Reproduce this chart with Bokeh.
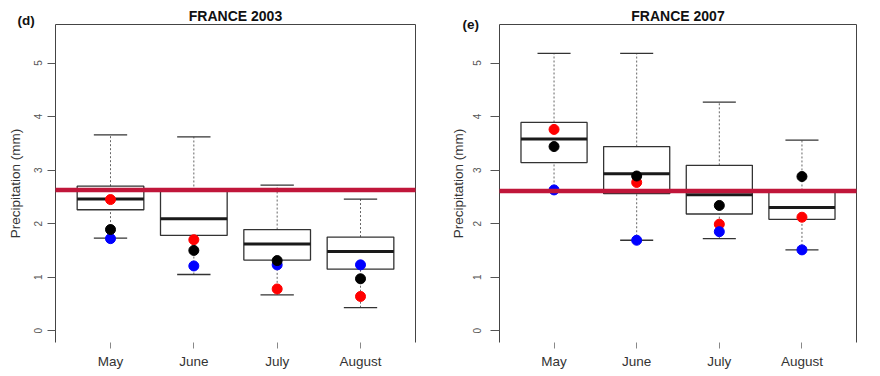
from bokeh.plotting import figure
from bokeh.models import (Range1d, FixedTicker, LinearAxis, BoxAnnotation, Label,
                          ColumnDataSource)
from bokeh.transform import dodge
from bokeh.layouts import row
from bokeh.embed import file_html
from bokeh.resources import INLINE

months = ["May", "June", "July", "August"]
y_ticks = [0, 1, 2, 3, 4, 5]

# FRANCE 2003 (panel d)
lo_2003 = [1.73, 1.05, 0.67, 0.43]
q1_2003 = [2.26, 1.78, 1.32, 1.15]
med_2003 = [2.46, 2.09, 1.62, 1.48]
q3_2003 = [2.70, 2.62, 1.89, 1.75]
hi_2003 = [3.66, 3.62, 2.72, 2.46]
red_2003 = [2.45, 1.70, 0.78, 0.64]
black_2003 = [1.89, 1.50, 1.31, 0.97]
blue_2003 = [1.72, 1.21, 1.23, 1.23]

# FRANCE 2007 (panel e)
lo_2007 = [2.62, 1.69, 1.72, 1.51]
q1_2007 = [3.14, 2.56, 2.18, 2.08]
med_2007 = [3.58, 2.93, 2.54, 2.30]
q3_2007 = [3.89, 3.44, 3.09, 2.62]
hi_2007 = [5.18, 5.18, 4.27, 3.56]
red_2007 = [3.76, 2.77, 1.99, 2.12]
black_2007 = [3.44, 2.89, 2.34, 2.88]
blue_2007 = [2.63, 1.69, 1.85, 1.51]

# red horizontal marker line level (mm)
marker_2003 = 2.63
marker_2007 = 2.61

FONT = "Liberation Sans"
FRAME = "#444444"
W, H = 440, 376


def make_panel(bl, br, bt, bb, tag, tag_pos, title, lo, q1, med, q3, hi, red, black,
               blue, marker, tick_out, tick_standoff, label_standoff):
    xs = [i + 1 for i in range(len(months))]
    src = ColumnDataSource(dict(x=xs, lo=lo, q1=q1, med=med, q3=q3, hi=hi,
                                red=red, black=black, blue=blue))
    xr = Range1d(0.34, 4.66)
    p = figure(width=W, height=H, output_backend="svg", toolbar_location=None,
               tools="", x_range=xr, y_range=Range1d(-0.22, 5.72),
               min_border_left=bl, min_border_right=br,
               min_border_top=bt, min_border_bottom=bb)
    p.outline_line_color = None
    p.grid.visible = False
    p.title.text = title
    p.title.align = "center"
    p.title.text_font = FONT
    p.title.text_font_size = "14px"
    p.title.text_font_style = "bold"
    p.title.text_color = "#111111"
    p.title.standoff = 1

    ya = p.yaxis[0]
    ya.ticker = FixedTicker(ticks=y_ticks)
    ya.axis_line_color = FRAME
    ya.major_tick_in = 0
    ya.major_tick_out = tick_out
    ya.major_tick_line_color = "#555555"
    ya.minor_tick_line_color = None
    ya.major_label_orientation = "vertical"
    ya.major_label_text_font = FONT
    ya.major_label_text_font_size = "10px"
    ya.major_label_text_color = "#555555"
    ya.major_label_standoff = tick_standoff
    ya.axis_label = "Precipitation (mm)"
    ya.axis_label_text_font = FONT
    ya.axis_label_text_font_size = "13.5px"
    ya.axis_label_text_font_style = "normal"
    ya.axis_label_text_color = "#333333"
    ya.axis_label_standoff = label_standoff

    xa = p.xaxis[0]
    xa.ticker = FixedTicker(ticks=xs)
    xa.major_label_overrides = {x: m for x, m in zip(xs, months)}
    xa.axis_line_color = None
    xa.major_tick_in = 0
    xa.major_tick_out = 6
    xa.major_tick_line_color = "#888888"
    xa.minor_tick_line_color = None
    xa.major_label_text_font = FONT
    xa.major_label_text_font_size = "13.5px"
    xa.major_label_text_color = "#333333"
    xa.major_label_standoff = 5

    for side in ("right", "above"):
        ax = LinearAxis(ticker=FixedTicker(ticks=[]), axis_line_color=FRAME,
                        major_tick_in=0, major_tick_out=0, minor_tick_in=0,
                        minor_tick_out=0)
        p.add_layout(ax, side)

    # whiskers
    p.segment(x0="x", y0="q3", x1="x", y1="hi", source=src, line_color="#666666",
              line_width=1, line_dash="2 2")
    p.segment(x0="x", y0="lo", x1="x", y1="q1", source=src, line_color="#666666",
              line_width=1, line_dash="2 2")
    # boxes
    p.vbar(x="x", width=0.8, top="q3", bottom="q1", source=src, fill_color=None,
           line_color="#333333", line_width=1.3)
    # medians
    p.segment(x0=dodge("x", -0.4, range=xr), x1=dodge("x", 0.4, range=xr),
              y0="med", y1="med", source=src, line_color="#1a1a1a", line_width=3)
    # staples
    for col in ("hi", "lo"):
        p.segment(x0=dodge("x", -0.2, range=xr), x1=dodge("x", 0.2, range=xr),
                  y0=col, y1=col, source=src, line_color="#333333", line_width=1.3)
    # points
    p.scatter("x", "red", source=src, size=10, color="#ff0000")
    p.scatter("x", "blue", source=src, size=10, color="#0000ff")
    p.scatter("x", "black", source=src, size=10, color="#000000")

    # panel tag: lives in a side panel (so it is not clipped to the frame),
    # positioned in canvas pixels at the top-left corner
    p.add_layout(Label(x=tag_pos[0], y=tag_pos[1], x_units="canvas", y_units="canvas",
                       text=tag, text_font=FONT, text_font_size="13.5px",
                       text_font_style="bold", text_color="#111111",
                       text_baseline="alphabetic"), "right")

    p.add_layout(BoxAnnotation(left=0, right=W, left_units="canvas",
                               right_units="canvas", top=marker, bottom=marker,
                               fill_color=None, fill_alpha=0,
                               line_color="#c0163a", line_alpha=1.0,
                               line_width=4.5, level="overlay"))
    return p


p1 = make_panel(55, 25, 23, 34, "(d)", (17, 20), "FRANCE 2003", lo_2003, q1_2003,
                med_2003, q3_2003, hi_2003, red_2003, black_2003, blue_2003,
                marker_2003, 8, 5, 9)
p2 = make_panel(59, 24, 24, 33, "(e)", (22, 23.5), "FRANCE 2007", lo_2007, q1_2007,
                med_2007, q3_2007, hi_2007, red_2007, black_2007, blue_2007,
                marker_2007, 9, 9, 5)

layout = row(p1, p2)
open("out.html", "w").write(file_html(layout, INLINE))
